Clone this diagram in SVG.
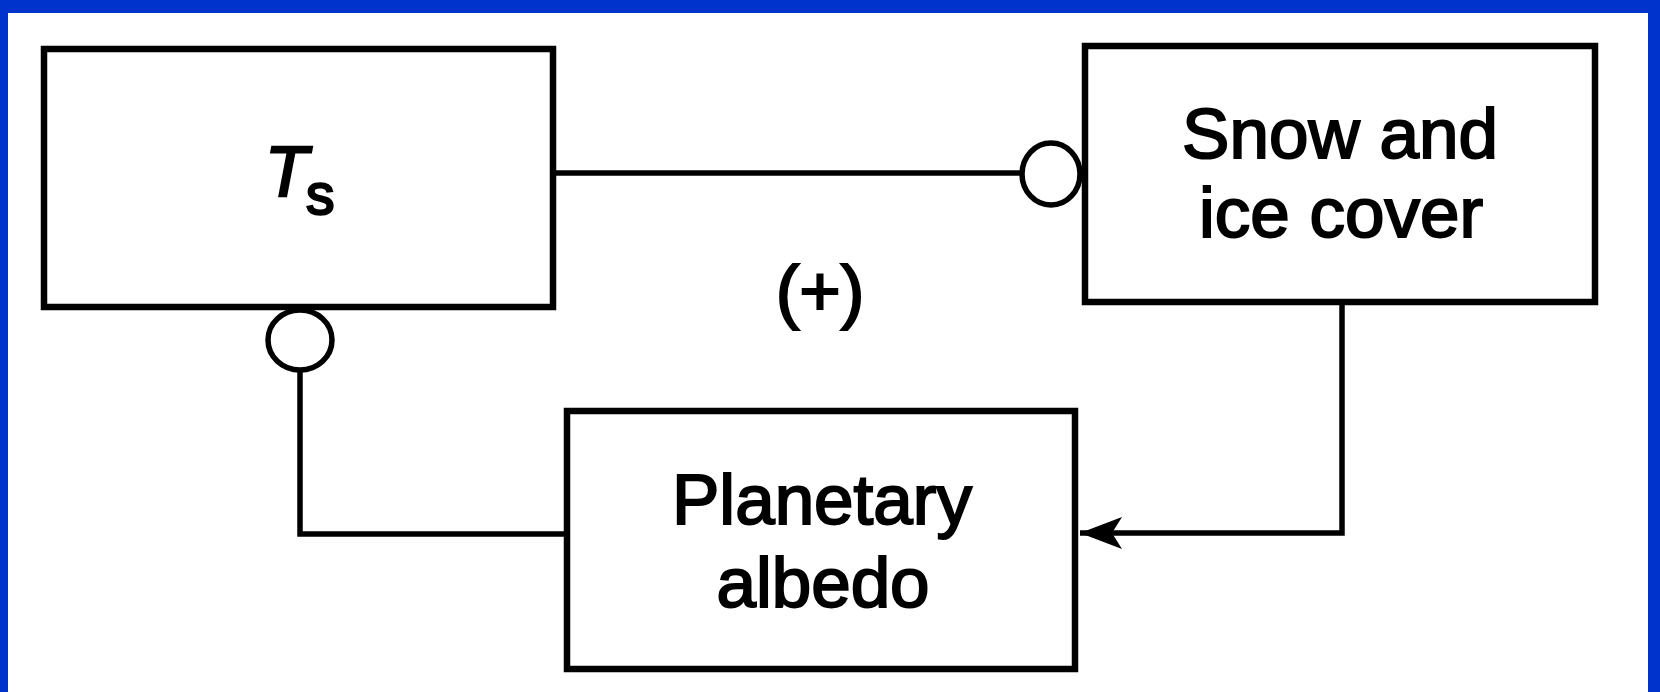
<svg xmlns="http://www.w3.org/2000/svg" width="1660" height="692" viewBox="0 0 1660 692">
<style>
.box{fill:#fff;stroke:#000;stroke-width:6.5}
.ln{fill:none;stroke:#000;stroke-width:5.5}
.lbl{font-family:"Liberation Sans",Arial,sans-serif;font-size:71px;fill:#000;stroke:#000;stroke-width:2;text-anchor:middle}
</style>
<defs>
<marker id="arr" markerUnits="userSpaceOnUse" markerWidth="50" markerHeight="40" refX="42" refY="16" orient="auto">
<path d="M42,16 L0,0 L10,16 L0,32 Z" fill="#000"/>
</marker>
</defs>
<rect x="0" y="0" width="1660" height="692" fill="#0033cc"/>
<rect x="8" y="13" width="1640" height="679" fill="#fff"/>
<g id="node-ts">
<rect class="box" x="44" y="49" width="509" height="258"/>
<text x="265" y="196" font-family="Liberation Sans,Arial,sans-serif" font-style="italic" font-size="70" stroke="#000" stroke-width="2.4">T</text>
<text x="306" y="214" font-family="Liberation Sans,Arial,sans-serif" font-size="57" stroke="#000" stroke-width="2.4">s</text>
</g>
<g id="node-snow">
<rect class="box" x="1085" y="46" width="510" height="256"/>
<text class="lbl" x="1340" y="158">Snow and</text>
<text class="lbl" x="1341" y="237">ice cover</text>
</g>
<g id="node-albedo">
<rect class="box" x="567" y="411" width="508" height="258"/>
<text class="lbl" x="822" y="524">Planetary</text>
<text class="lbl" x="823" y="607">albedo</text>
</g>
<g id="connectors">
<line class="ln" x1="556" y1="173" x2="1022" y2="173"/>
<ellipse class="ln" cx="1051" cy="174" rx="29" ry="31"/>
<ellipse class="ln" cx="300" cy="340" rx="32" ry="30"/>
<polyline class="ln" points="300,370 300,534 564,534"/>
<polyline class="ln" points="1342,305 1342,533 1080,533" marker-end="url(#arr)"/>
</g>
<text id="loop-sign" class="lbl" x="820" y="315" font-size="72">(+)</text>
</svg>
